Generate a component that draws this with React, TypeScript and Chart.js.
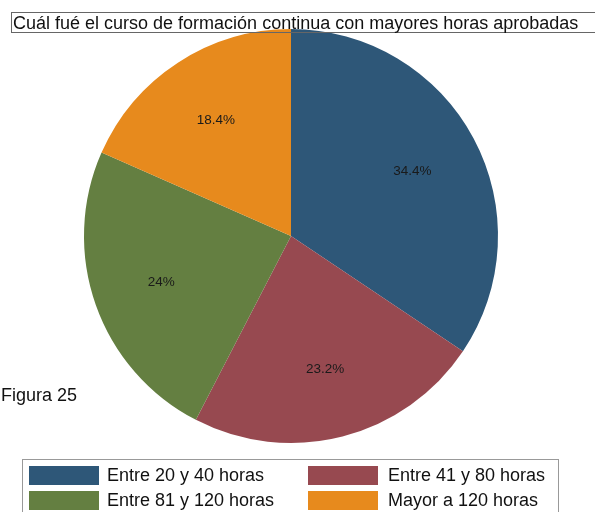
import React, { useEffect, useRef } from "react";
import { Chart, registerables } from "chart.js";

Chart.register(...registerables);

const titleText = "Cuál fué el curso de formación continua con mayores horas aprobadas";
const figureLabel = "Figura 25";
const categories = ["Entre 20 y 40 horas", "Entre 41 y 80 horas", "Entre 81 y 120 horas", "Mayor a 120 horas"];
const values = [34.4, 23.2, 24, 18.4];
const colors = ["#2E5778", "#974950", "#647F41", "#E78A1D"];

const FONT = '"Liberation Sans", Arial, sans-serif';

const sliceLabels = {
  id: "sliceLabels",
  afterDatasetsDraw(chart: any) {
    const ctx = chart.ctx;
    const meta = chart.getDatasetMeta(0);
    ctx.save();
    ctx.font = `13.5px ${FONT}`;
    ctx.fillStyle = "#1a1a1a";
    ctx.textAlign = "center";
    ctx.textBaseline = "middle";
    meta.data.forEach((arc: any, i: number) => {
      const p = arc.getProps(["x", "y", "startAngle", "endAngle", "outerRadius"], true);
      const mid = (p.startAngle + p.endAngle) / 2;
      const r = p.outerRadius * 0.665;
      ctx.fillText(`${values[i]}%`, p.x + Math.cos(mid) * r, p.y + Math.sin(mid) * r);
    });
    ctx.restore();
  },
};

export default function App() {
  const ref = useRef<HTMLCanvasElement>(null);
  useEffect(() => {
    const chart = new Chart(ref.current!, {
      type: "pie",
      data: {
        labels: categories,
        datasets: [{ data: values, backgroundColor: colors, borderWidth: 0 }],
      },
      options: {
        animation: false,
        responsive: false,
        devicePixelRatio: 1,
        layout: { padding: { left: 84, top: 29, right: 97, bottom: 69 } },
        plugins: { legend: { display: false }, tooltip: { enabled: false }, title: { display: false } },
      },
      plugins: [sliceLabels],
    });
    return () => chart.destroy();
  }, []);

  return (
    <div style={{ position: "fixed", left: 0, top: 0, width: 595, height: 512, overflow: "hidden", background: "#fff", fontFamily: FONT }}>
      <canvas ref={ref} width={595} height={512} style={{ position: "absolute", left: 0, top: 0 }} />
      <div
        style={{
          position: "absolute",
          left: 11,
          top: 12,
          width: 620,
          height: 19,
          border: "1px solid #666",
          fontSize: 18,
          lineHeight: "20px",
          paddingLeft: 1,
          color: "#111",
          whiteSpace: "nowrap",
          boxSizing: "content-box",
        }}
      >
        {titleText}
      </div>
      <div style={{ position: "absolute", left: 1, top: 385, fontSize: 18, lineHeight: "20px", color: "#111", whiteSpace: "nowrap" }}>
        {figureLabel}
      </div>
      <div
        style={{
          position: "absolute",
          left: 22,
          top: 459,
          width: 535,
          height: 70,
          border: "1px solid #999",
        }}
      />
      {categories.map((c, i) => {
        const col = i % 2;
        const row = Math.floor(i / 2);
        const left = 29 + col * 279;
        const top = 466 + row * 25;
        return (
          <div key={c} style={{ position: "absolute", left, top, height: 19, display: "flex", alignItems: "center", whiteSpace: "nowrap" }}>
            <div style={{ width: 70, height: 19, background: colors[i] }} />
            <span style={{ marginLeft: col === 0 ? 8 : 10, fontSize: 18, color: "#111", lineHeight: "19px" }}>{c}</span>
          </div>
        );
      })}
    </div>
  );
}
